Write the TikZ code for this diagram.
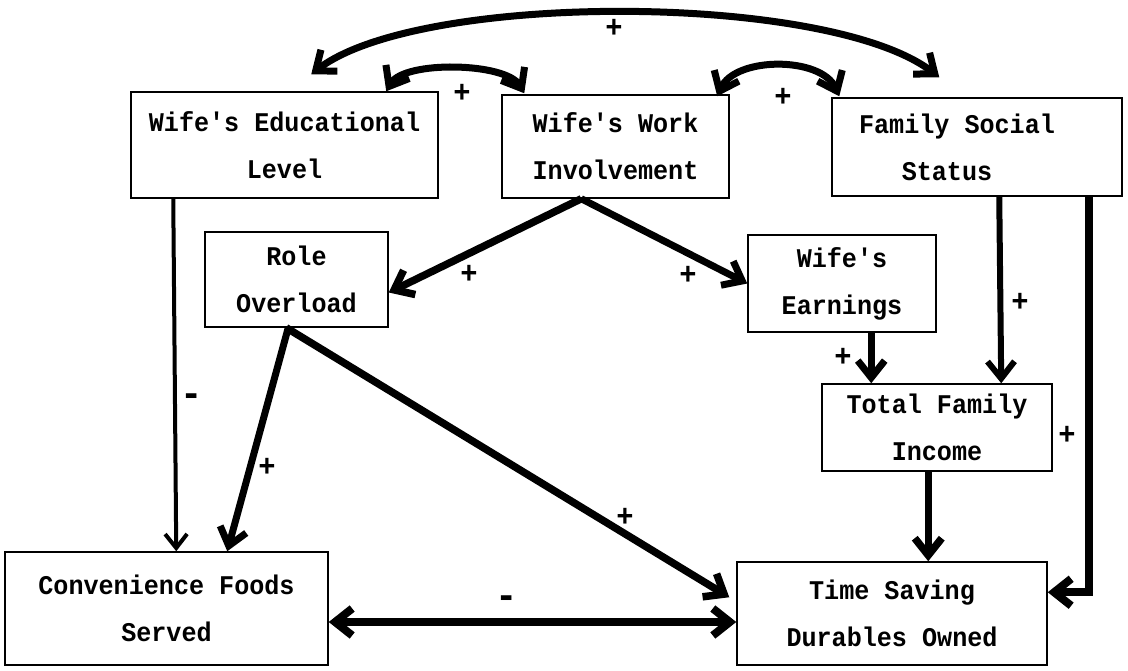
\documentclass[tikz,border=0pt]{standalone}
\usepackage{fontspec}
\newfontfamily\tw[FakeStretch=0.93]{Liberation Mono}
\usetikzlibrary{arrows.meta,calc}
\tikzset{
  hd/.tip={Straight Barb[length=17pt,width=27pt]},
  sm/.tip={Straight Barb[length=14pt,width=22pt]},
}
\begin{document}
\begin{tikzpicture}[x=1pt,y=-1pt,
  box/.style={draw, line width=1.5pt, inner sep=0pt, align=center,
              font=\tw\bfseries\fontsize{27}{47}\selectfont},
  link/.style={line width=7.5pt, -hd},
  thinlink/.style={line width=4pt, -sm},
  twoway/.style={line width=7pt, hd-hd},
  sign/.style={font=\tw\bfseries\fontsize{31}{31}\selectfont, inner sep=0pt},
  dash sign/.style={font=\tw\bfseries\fontsize{40}{40}\selectfont, inner sep=0pt},
]
\useasboundingbox (0,0) rectangle (1128,671);

% variables
\node[box, minimum width=307pt, minimum height=106pt] (edu)  at (284.5,145)
  {Wife's Educational\\Level};
\node[box, minimum width=227pt, minimum height=103pt] (work) at (615.5,146.5)
  {Wife's Work\\Involvement};
\node[box, minimum width=290pt, minimum height=98pt]  (fam)  at (977,147)
  {Family Social\hspace*{40pt}\\Status\hspace*{60pt}};
\node[box, minimum width=183pt, minimum height=95pt]  (role) at (296.5,279.5)
  {Role\\Overload};
\node[box, minimum width=188pt, minimum height=97pt]  (earn) at (842,283.5)
  {Wife's\\Earnings};
\node[box, minimum width=230pt, minimum height=87pt]  (inc)  at (937,427.5)
  {Total Family\\Income};
\node[box, minimum width=323pt, minimum height=113pt] (conv) at (166.5,608.5)
  {Convenience Foods\\Served};
\node[box, minimum width=310pt, minimum height=103pt] (tsd)  at (892,613.5)
  {Time Saving\\Durables Owned};

% correlations among the background variables
\draw[twoway] ([xshift=181pt,yshift=17pt]edu.north west)
  .. controls +(108,-83) and +(-110,-85) .. ([xshift=108pt,yshift=20pt]fam.north west);
\draw[twoway] ([xshift=256pt]edu.north west)
  .. controls +(18,-31) and +(-18,-31) .. ([xshift=23pt,yshift=1pt]work.north west);
\draw[twoway] ([xshift=216pt,yshift=-2pt]work.north west)
  .. controls +(18,-40) and +(-18,-40) .. ([xshift=8pt,yshift=1pt]fam.north west);

% causal paths
\draw[link] ([xshift=80pt]work.south west) -- ([yshift=-13pt]role.east);
\draw[link, line width=7pt] ([xshift=80pt]work.south west) -- (earn.west);
\draw[thinlink] ([xshift=43pt]edu.south west) -- ([xshift=172pt]conv.north west);
\draw[link, line width=7pt] ([xshift=84pt]role.south west) -- ([xshift=223pt]conv.north west);
\draw[link] ([xshift=82pt]role.south west) -- ([xshift=-7pt,yshift=-36pt]tsd.north west);
\draw[link, line width=7pt] ([xshift=124pt]earn.south west) -- ([xshift=50pt]inc.north west);
\draw[link, line width=6pt] ([xshift=168pt]fam.south west) -- ([xshift=180pt]inc.north west);
\draw[link, line width=8pt] ([xshift=258pt]fam.south west) |- ([yshift=-31pt]tsd.north east);
\draw[link] ([xshift=107pt]inc.south west) -- ([xshift=192pt]tsd.north west);
\draw[twoway, line width=8pt] ([yshift=-13.5pt]conv.east) -- ([yshift=-8.5pt]tsd.west);

% signs of the paths
\node[sign] (s1)  at (614,28)  {+};
\node[sign] (s2)  at (462,93)  {+};
\node[sign] (s3)  at (783,97)  {+};
\node[sign] (s4)  at (469,274) {+};
\node[sign] (s5)  at (688,275) {+};
\node[dash sign] (s6) at (192,400) {-};
\node[sign] (s7)  at (267,467) {+};
\node[sign] (s8)  at (625,517) {+};
\node[sign] (s9)  at (843,357) {+};
\node[sign] (s10) at (1020,302) {+};
\node[sign] (s11) at (1067,435) {+};
\node[dash sign] (s12) at (507,602) {-};
\end{tikzpicture}
\end{document}
